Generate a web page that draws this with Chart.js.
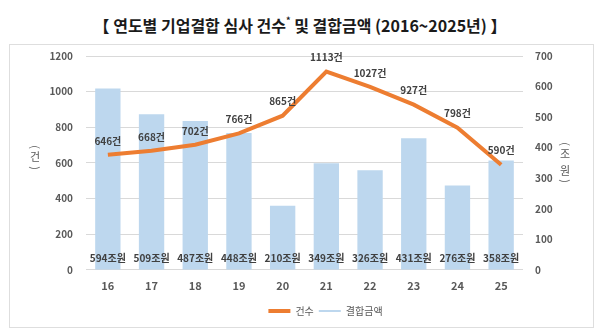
<!DOCTYPE html>
<html>
<head>
<meta charset="utf-8">
<script src="https://cdn.jsdelivr.net/npm/chart.js@4"></script>
<style>
  html, body { margin: 0; padding: 0; background: #fff; }
  body { width: 600px; height: 332px; position: relative; overflow: hidden;
         font-family: "Noto Sans CJK KR", "Noto Sans", sans-serif; }
  #title { position: absolute; left: 0; top: 12px; width: 600px; text-align: center;
           font-size: 16px; font-weight: bold; color: #1a1a1a; line-height: 22px; }
  #title sup { font-size: 9px; position: relative; top: -2px; }
  #box { position: absolute; left: 9px; top: 44px; width: 583px; height: 282px;
         border: 1px solid #dedede; box-sizing: content-box; }
  #wrap { position: absolute; left: 0; top: 0; width: 600px; height: 332px; }
</style>
</head>
<body>
<div id="title">【 연도별 기업결합 심사 건수<sup>*</sup> 및 결합금액 (2016~2025년) 】</div>
<div id="box"></div>
<div id="wrap"><canvas id="chart" width="600" height="332"></canvas></div>
<script>
let years = ['16', '17', '18', '19', '20', '21', '22', '23', '24', '25'];
let counts = [646, 668, 702, 766, 865, 1113, 1027, 927, 798, 590];
let amounts = [594, 509, 487, 448, 210, 349, 326, 431, 276, 358];
let countTicks = [0, 200, 400, 600, 800, 1000, 1200];
let amountTicks = [0, 100, 200, 300, 400, 500, 600, 700];

const orange = '#ED7D31';
const blue = '#BDD7EE';
const grey = '#595959';
const font = '"Noto Sans CJK KR", "Noto Sans", sans-serif';

// value labels on line points and bars
const valueLabels = {
  id: 'valueLabels',
  afterDatasetsDraw(chart) {
    const ctx = chart.ctx;
    ctx.save();
    ctx.textAlign = 'center';
    ctx.textBaseline = 'middle';
    ctx.fillStyle = '#404040';
    ctx.font = 'bold 10px ' + font;
    const line = chart.getDatasetMeta(0);
    line.data.forEach((pt, i) => {
      ctx.fillText(counts[i] + '건', pt.x, pt.y - 14);
    });
    const bars = chart.getDatasetMeta(1);
    const base = chart.scales.y2.getPixelForValue(0);
    bars.data.forEach((bar, i) => {
      ctx.fillText(amounts[i] + '조원', bar.x, base - 12);
    });
    ctx.restore();
  }
};

// vertical axis titles, characters stacked
const axisTitles = {
  id: 'axisTitles',
  afterDraw(chart) {
    const ctx = chart.ctx;
    ctx.save();
    ctx.fillStyle = grey;
    ctx.textAlign = 'center';
    ctx.textBaseline = 'middle';
    ctx.font = '11px ' + font;
    const drawParen = (ch, x, y) => {
      ctx.save();
      ctx.translate(x, y);
      ctx.rotate(Math.PI / 2);
      ctx.fillText(ch, 0, 0);
      ctx.restore();
    };
    drawParen('(', 35, 147);
    ctx.fillText('건', 35, 157);
    drawParen(')', 35, 168);
    drawParen('(', 565, 144);
    ctx.fillText('조', 565, 154);
    ctx.fillText('원', 565, 171);
    drawParen(')', 565, 181);
    ctx.restore();
  }
};

// legend sits a bit right of centre in the original
const legendShift = {
  id: 'legendShift',
  afterLayout(chart) {
    chart.legend.left += 24;
    chart.legend.right += 24;
  }
};

new Chart(document.getElementById('chart'), {
  data: {
    labels: years,
    datasets: [{
      type: 'line',
      label: '건수',
      data: counts,
      yAxisID: 'y',
      borderColor: orange,
      backgroundColor: orange,
      borderWidth: 4,
      pointRadius: 0,
      tension: 0,
      order: 0
    }, {
      type: 'bar',
      label: '결합금액',
      data: amounts,
      yAxisID: 'y2',
      backgroundColor: blue,
      borderWidth: 0,
      categoryPercentage: 0.58,
      barPercentage: 1,
      order: 1
    }]
  },
  options: {
    responsive: false,
    animation: false,
    maintainAspectRatio: false,
    layout: { padding: { left: 10, right: 7, top: 56, bottom: 6 } },
    plugins: {
      tooltip: { enabled: false },
      legend: {
        position: 'bottom',
        labels: {
          color: grey,
          font: { family: font, size: 10 },
          usePointStyle: true,
          pointStyleWidth: 22,
          padding: 5,
          generateLabels(chart) {
            return [
              { text: '건수', pointStyle: 'line', strokeStyle: orange, fillStyle: orange, lineWidth: 4, fontColor: grey, datasetIndex: 0 },
              { text: '결합금액', pointStyle: 'line', strokeStyle: blue, fillStyle: blue, lineWidth: 2, fontColor: grey, datasetIndex: 1 }
            ];
          }
        }
      }
    },
    scales: {
      x: {
        grid: { display: false, drawTicks: false },
        border: { display: false },
        ticks: { color: grey, font: { family: font, size: 11, weight: 'bold' }, padding: 9 }
      },
      y: {
        position: 'left',
        min: 0,
        max: 1200,
        afterBuildTicks(scale) { scale.ticks = countTicks.map(v => ({ value: v })); },
        afterFit(scale) { scale.width = 76; },
        grid: { color: '#d9d9d9', lineWidth: 1, drawTicks: false },
        border: { display: false },
        ticks: { color: grey, font: { family: font, size: 10, weight: 'bold' }, padding: 13,
                 callback: v => String(v) }
      },
      y2: {
        position: 'right',
        min: 0,
        max: 700,
        afterBuildTicks(scale) { scale.ticks = amountTicks.map(v => ({ value: v })); },
        afterFit(scale) { scale.width = 70; },
        grid: { display: false, drawTicks: false },
        border: { display: false },
        ticks: { color: grey, font: { family: font, size: 10, weight: 'bold' }, padding: 12,
                 callback: v => String(v) }
      }
    }
  },
  plugins: [valueLabels, axisTitles, legendShift]
});
</script>
</body>
</html>
